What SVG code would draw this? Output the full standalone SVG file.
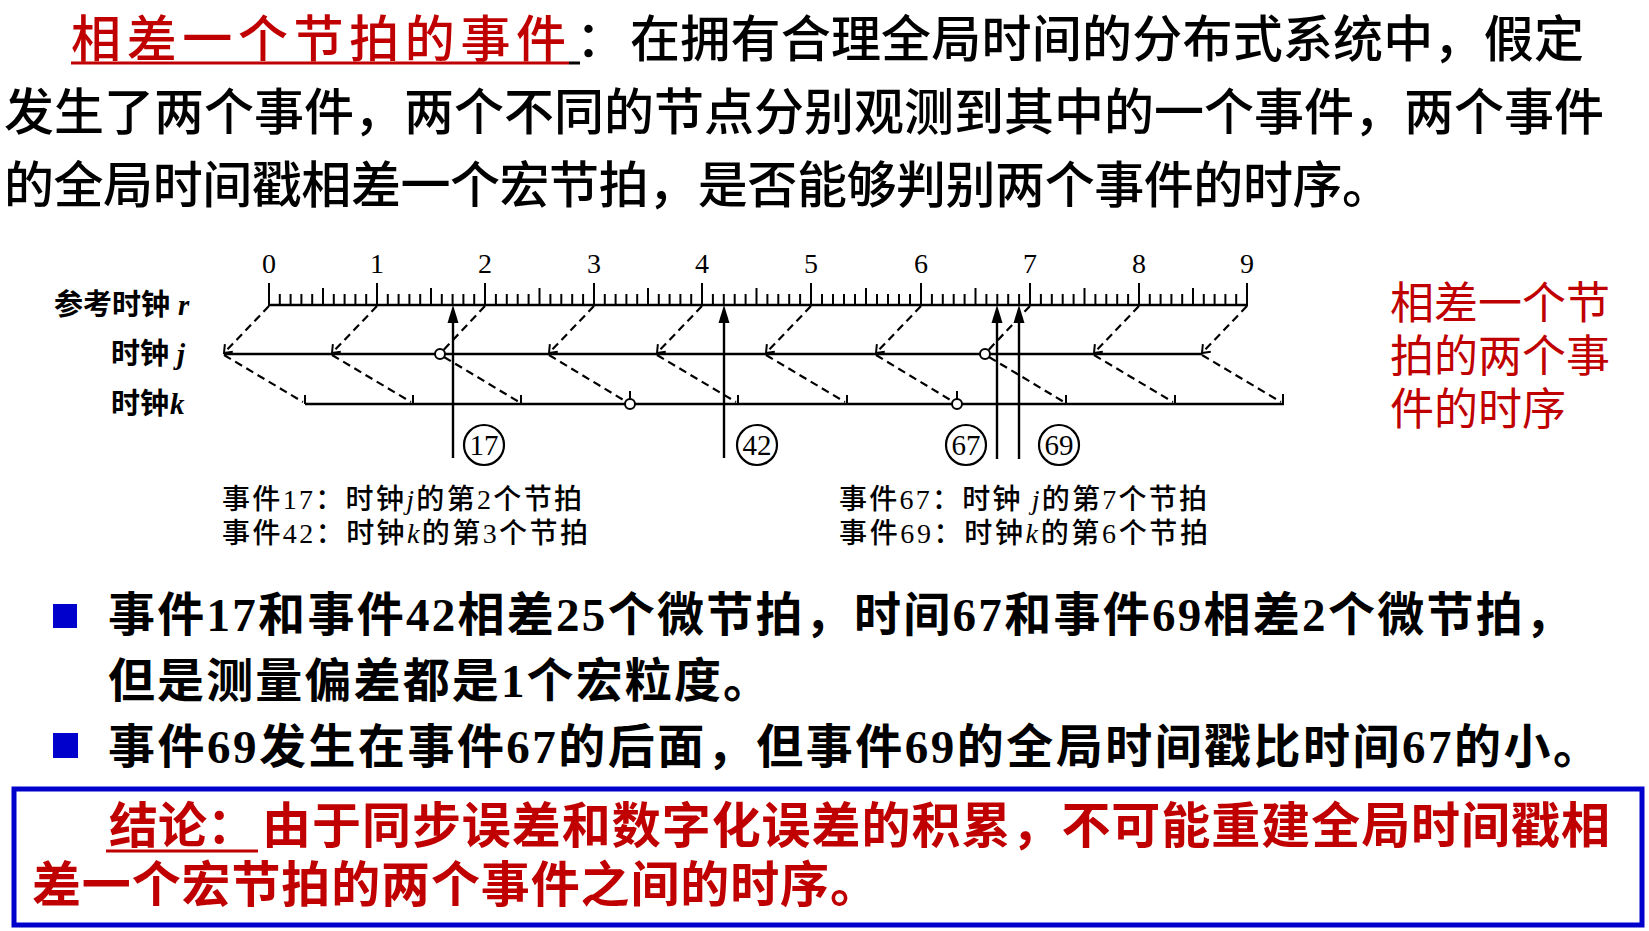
<svg xmlns="http://www.w3.org/2000/svg" width="1649" height="931" viewBox="0 0 1649 931">
<defs>
<style>
.t50{font-family:"Noto Sans CJK SC",sans-serif;font-size:50px;font-weight:500;fill:#000}
.red{fill:#C00000}
.lbl{font-family:"Noto Sans CJK SC",sans-serif;font-size:29px;font-weight:bold;fill:#000}
.it{font-family:"Liberation Serif",serif;font-style:italic;font-weight:bold}
.num{font-family:"Liberation Serif",serif;font-size:28px;fill:#000;text-anchor:middle}
.cn{font-family:"Liberation Serif",serif;font-size:29px;fill:#000;text-anchor:middle}
.ev{font-family:"Liberation Serif","Noto Sans CJK SC",serif;font-size:28px;font-weight:500;fill:#000}
.bul{font-family:"Liberation Serif","Noto Sans CJK SC",serif;font-size:47px;font-weight:bold;fill:#000}
.conc{font-family:"Noto Sans CJK SC",sans-serif;font-size:49px;font-weight:bold;fill:#C00000}
.side{font-family:"Noto Sans CJK SC",sans-serif;font-size:44px;fill:#C00000}
.ln{stroke:#000;stroke-width:2.4;fill:none}
.tk{stroke:#000;stroke-width:2;fill:none}
.dash{stroke:#000;stroke-width:2.2;fill:none;stroke-dasharray:8 5}
.dot{fill:#fff;stroke:#000;stroke-width:2}
.sq{fill:#0000CC}
</style>
<marker id="va" markerUnits="userSpaceOnUse" markerWidth="14" markerHeight="14" viewBox="-9 -7 11 14" refX="0" refY="0" orient="auto">
<path d="M-7,-5.5 L0,0 L-7,5.5" fill="none" stroke="#000" stroke-width="2" stroke-dasharray="none"/>
</marker>
</defs>
<rect width="1649" height="931" fill="#fff"/>

<g id="question">
<text x="71" y="57" class="t50 red" textLength="495" lengthAdjust="spacing">相差一个节拍的事件</text>
<line x1="71" y1="63" x2="569" y2="63" stroke="#C00000" stroke-width="3"/>
<line x1="569" y1="63" x2="580" y2="63" stroke="#000" stroke-width="3"/>
<text x="576" y="57" class="t50">：</text>
<text x="630" y="57" class="t50" textLength="954" lengthAdjust="spacing">在拥有合理全局时间的分布式系统中，假定</text>
<text x="4" y="130" class="t50" textLength="1600" lengthAdjust="spacing">发生了两个事件，两个不同的节点分别观测到其中的一个事件，两个事件</text>
<text x="4" y="203" class="t50" textLength="1388" lengthAdjust="spacing">的全局时间戳相差一个宏节拍，是否能够判别两个事件的时序。</text>
</g>

<g id="clock-r">
<text x="54" y="315" class="lbl">参考时钟<tspan class="it" dx="8">r</tspan></text>
<line x1="268" y1="305" x2="1248" y2="305" stroke="#000" stroke-width="2.6"/>
<path class="tk" d="M269 283V305M377 283V305M485 283V305M594 283V305M702 283V305M811 283V305M921 283V305M1030 283V305M1139 283V305M1247 283V305"/>
<path class="tk" d="M323 288V305M431 288V305M539.5 288V305M648 288V305M756.5 288V305M866 288V305M975.5 288V305M1084.5 288V305M1193 288V305"/>
<path class="tk" stroke-width="1.8" d="M279.8 294V305M290.6 294V305M301.4 294V305M312.2 294V305M333.8 294V305M344.6 294V305M355.4 294V305M366.2 294V305M387.8 294V305M398.6 294V305M409.4 294V305M420.2 294V305M441.8 294V305M452.6 294V305M463.4 294V305M474.2 294V305M495.9 294V305M506.8 294V305M517.7 294V305M528.6 294V305M550.4 294V305M561.3 294V305M572.2 294V305M583.1 294V305M604.8 294V305M615.6 294V305M626.4 294V305M637.2 294V305M658.8 294V305M669.6 294V305M680.4 294V305M691.2 294V305M712.9 294V305M723.8 294V305M734.7 294V305M745.6 294V305M767.4 294V305M778.3 294V305M789.2 294V305M800.1 294V305M822 294V305M833 294V305M844 294V305M855 294V305M877 294V305M888 294V305M899 294V305M910 294V305M931.9 294V305M942.8 294V305M953.7 294V305M964.6 294V305M986.4 294V305M997.3 294V305M1008.2 294V305M1019.1 294V305M1040.9 294V305M1051.8 294V305M1062.7 294V305M1073.6 294V305M1095.4 294V305M1106.3 294V305M1117.2 294V305M1128.1 294V305M1149.8 294V305M1160.6 294V305M1171.4 294V305M1182.2 294V305M1203.8 294V305M1214.6 294V305M1225.4 294V305M1236.2 294V305"/>
<text class="num" x="269" y="273">0</text>
<text class="num" x="377" y="273">1</text>
<text class="num" x="485" y="273">2</text>
<text class="num" x="594" y="273">3</text>
<text class="num" x="702" y="273">4</text>
<text class="num" x="811" y="273">5</text>
<text class="num" x="921" y="273">6</text>
<text class="num" x="1030" y="273">7</text>
<text class="num" x="1139" y="273">8</text>
<text class="num" x="1247" y="273">9</text>
</g>

<g id="clock-j">
<text x="111" y="364" class="lbl">时钟<tspan class="it" dx="8">j</tspan></text>
<line x1="224" y1="354" x2="1202" y2="354" class="ln"/>
</g>

<g id="clock-k">
<text x="111" y="414" class="lbl">时钟<tspan class="it" dx="1">k</tspan></text>
<line x1="305" y1="404" x2="1284" y2="404" class="ln"/>
<path class="tk" d="M305 395V404M413 395V404M521 395V404M738 395V404M847 395V404M1066 395V404M1175 395V404M1283 394V404M630 391V399M957 391V399"/>
</g>

<g id="connectors">
<path class="dash" marker-end="url(#va)" d="M269,306 L224,353"/>
<path class="dash" marker-end="url(#va)" d="M377,306 L332,353"/>
<path class="dash" d="M485,306 L443.5,350"/>
<path class="dash" marker-end="url(#va)" d="M594,306 L549,353"/>
<path class="dash" marker-end="url(#va)" d="M702,306 L657,353"/>
<path class="dash" marker-end="url(#va)" d="M811,306 L766,353"/>
<path class="dash" marker-end="url(#va)" d="M921,306 L876,353"/>
<path class="dash" d="M1030,306 L988.5,350"/>
<path class="dash" marker-end="url(#va)" d="M1139,306 L1094,353"/>
<path class="dash" marker-end="url(#va)" d="M1247,306 L1202,353"/>
<path class="dash" d="M224,355 L303,402"/>
<path class="dash" d="M332,355 L411,402"/>
<path class="dash" d="M444,357 L519,402"/>
<path class="dash" d="M549,355 L625.7,401.4"/>
<path class="dash" d="M657,355 L736,402"/>
<path class="dash" d="M766,355 L845,402"/>
<path class="dash" d="M876,355 L952.7,401.4"/>
<path class="dash" d="M989,357 L1064,402"/>
<path class="dash" d="M1094,355 L1173,402"/>
<path class="dash" d="M1202,355 L1281,402"/>
<g id="event-arrows">
<line x1="453" y1="458" x2="453" y2="320" class="ln"/>
<polygon points="453,305 447.5,323 458.5,323" fill="#000"/>
<line x1="724" y1="458" x2="724" y2="320" class="ln"/>
<polygon points="724,305 718.5,323 729.5,323" fill="#000"/>
<line x1="997" y1="459" x2="997" y2="320" class="ln"/>
<polygon points="997,305 991.5,323 1002.5,323" fill="#000"/>
<line x1="1019" y1="459" x2="1019" y2="320" class="ln"/>
<polygon points="1019,305 1013.5,323 1024.5,323" fill="#000"/>
</g>
</g>

<g id="marks">
<circle class="dot" cx="440" cy="354" r="5"/>
<circle class="dot" cx="985" cy="354" r="5"/>
<circle class="dot" cx="630" cy="404" r="5"/>
<circle class="dot" cx="957" cy="404" r="5"/>
</g>

<g id="event17">
<circle cx="484" cy="445" r="20" fill="none" stroke="#000" stroke-width="2.2"/>
<text class="cn" x="484" y="455">17</text>
</g>
<g id="event42">
<circle cx="757" cy="445" r="20" fill="none" stroke="#000" stroke-width="2.2"/>
<text class="cn" x="757" y="455">42</text>
</g>
<g id="event67">
<circle cx="966" cy="445" r="20" fill="none" stroke="#000" stroke-width="2.2"/>
<text class="cn" x="966" y="455">67</text>
</g>
<g id="event69">
<circle cx="1059" cy="445" r="20" fill="none" stroke="#000" stroke-width="2.2"/>
<text class="cn" x="1059" y="455">69</text>
</g>

<g id="legend-left">
<text x="222" y="509" class="ev" textLength="360" lengthAdjust="spacing">事件17：时钟<tspan font-style="italic">j</tspan>的第2个节拍</text>
<text x="222" y="543" class="ev" textLength="366" lengthAdjust="spacing">事件42：时钟<tspan font-style="italic">k</tspan>的第3个节拍</text>
</g>
<g id="legend-right">
<text x="839" y="509" class="ev" textLength="368" lengthAdjust="spacing">事件67：时钟 <tspan font-style="italic">j</tspan>的第7个节拍</text>
<text x="839" y="543" class="ev" textLength="369" lengthAdjust="spacing">事件69：时钟<tspan font-style="italic">k</tspan>的第6个节拍</text>
</g>

<g id="side-note">
<text x="1390" y="319" class="side">相差一个节</text>
<text x="1390" y="372" class="side">拍的两个事</text>
<text x="1390" y="425" class="side">件的时序</text>
</g>

<g id="bullets">
<rect class="sq" x="53" y="604" width="24" height="24"/>
<text x="108" y="631" class="bul" textLength="1464" lengthAdjust="spacing">事件17和事件42相差25个微节拍，时间67和事件69相差2个微节拍，</text>
<text x="108" y="697" class="bul" textLength="662" lengthAdjust="spacing">但是测量偏差都是1个宏粒度。</text>
<rect class="sq" x="53" y="733" width="25" height="25"/>
<text x="108" y="763" class="bul" textLength="1492" lengthAdjust="spacing">事件69发生在事件67的后面，但事件69的全局时间戳比时间67的小。</text>
</g>

<g id="conclusion">
<rect x="14" y="789" width="1628" height="136" fill="#fff" stroke="#0000CC" stroke-width="5"/>
<text x="109" y="843" class="conc">结论：</text>
<line x1="106" y1="851" x2="258" y2="851" stroke="#C00000" stroke-width="3"/>
<text x="262" y="843" class="conc" textLength="1348" lengthAdjust="spacing">由于同步误差和数字化误差的积累，不可能重建全局时间戳相</text>
<text x="32" y="902" class="conc" textLength="847" lengthAdjust="spacing">差一个宏节拍的两个事件之间的时序。</text>
</g>
</svg>
